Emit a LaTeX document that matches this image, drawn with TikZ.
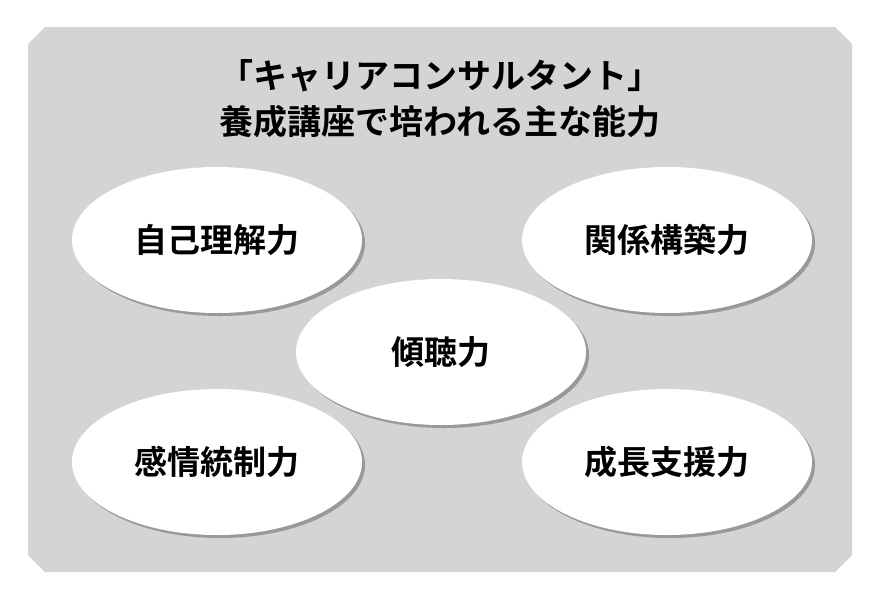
\documentclass[tikz,border=0pt]{standalone}
\usepackage{fontspec}
\newfontfamily\jpfont{Noto Sans CJK JP}[BoldFont=* Bold]
\usetikzlibrary{shapes.geometric,shadows}
\definecolor{panelgray}{HTML}{D4D4D6}
\tikzset{
skill/.style={ellipse,fill=white,minimum width=290pt,minimum height=146pt,
  font=\jpfont\bfseries\fontsize{33pt}{36pt}\selectfont,
  drop shadow={shadow xshift=3pt,shadow yshift=-3pt,fill=black!55,opacity=.6}},
}
\begin{document}
\begin{tikzpicture}[x=1pt,y=-1pt]
\useasboundingbox (0,0) rectangle (885,606);
% the panel
\fill[panelgray] (45,27) -- (835,27) -- (852,44) -- (852,555) -- (835,572)
  -- (45,572) -- (28,555) -- (28,44) -- cycle;
\node[font=\jpfont\bfseries\fontsize{34pt}{46pt}\selectfont,align=center] (title) at (440,99)
  {「キャリアコンサルタント」\\養成講座で培われる主な能力};
% the skills
\node[skill] (self) at (217,240) {自己理解力};
\node[skill] (relation) at (667,240) {関係構築力};
\node[skill] (emotion) at (217,462) {感情統制力};
\node[skill] (growth) at (667,462) {成長支援力};
\node[skill] (listen) at (441,352) {傾聴力};
\end{tikzpicture}
\end{document}
